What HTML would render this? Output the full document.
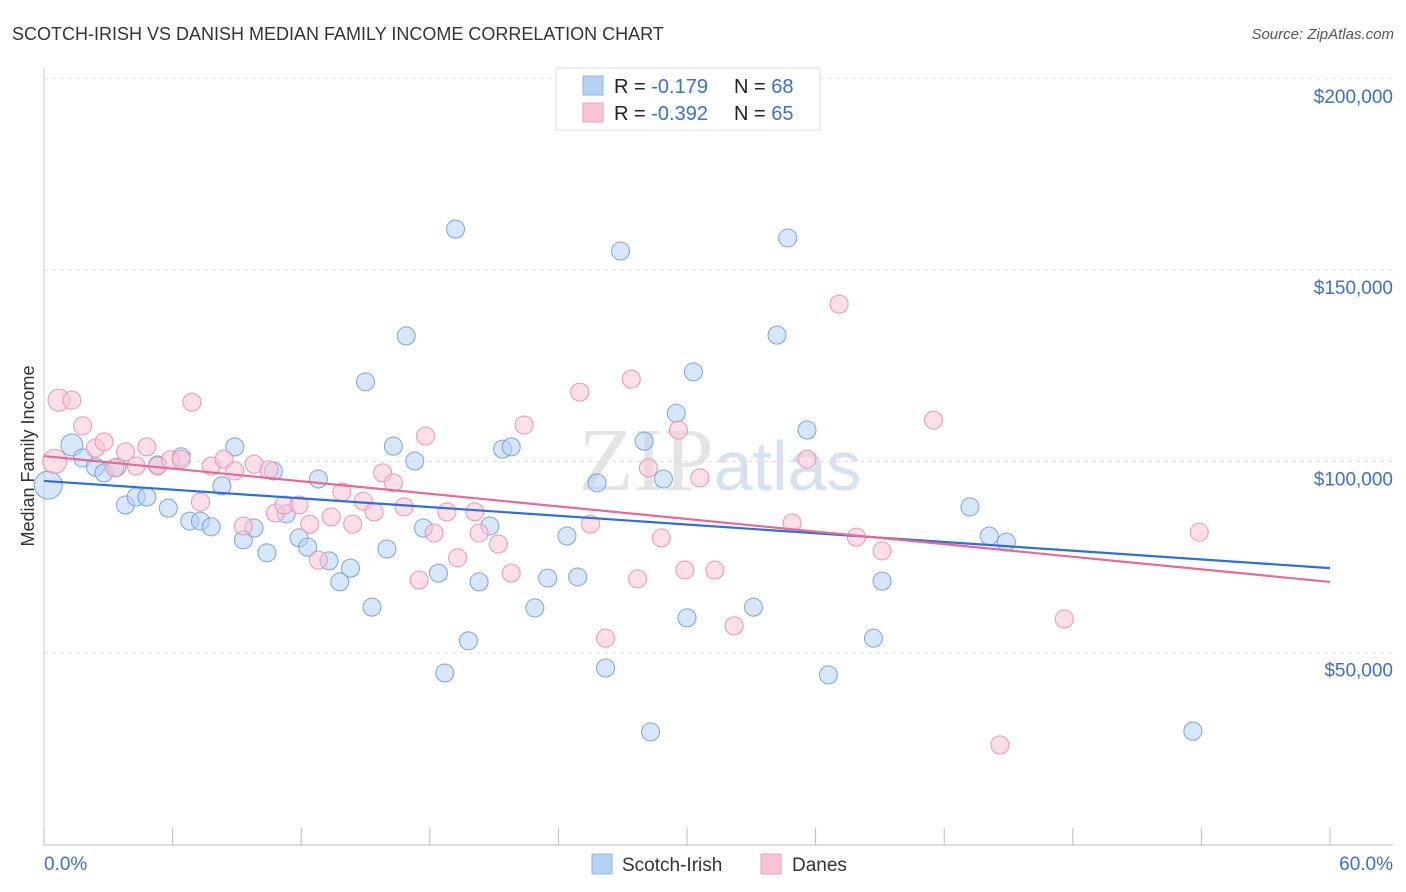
<!DOCTYPE html>
<html><head><meta charset="utf-8"><style>
body{margin:0;background:#fff;font-family:"Liberation Sans",sans-serif;}
svg{display:block}
</style></head><body>
<svg id="chart" width="1406" height="892">
<text x="12" y="40" font-size="18" fill="#333">SCOTCH-IRISH VS DANISH MEDIAN FAMILY INCOME CORRELATION CHART</text>
<text x="1394" y="39" font-size="15" fill="#555" font-style="italic" text-anchor="end">Source: ZipAtlas.com</text>
<text x="720" y="490" font-size="90" fill="#e4e4e4" text-anchor="middle" font-family="Liberation Serif,serif">ZIP<tspan fill="#d6e2f2" font-family="Liberation Sans,sans-serif" font-size="70">atlas</tspan></text>
<text transform="translate(34,456) rotate(-90)" font-size="18" fill="#333" text-anchor="middle">Median Family Income</text>
<g id="grid"></g><g id="axes"></g><g id="marks"></g>
<g>
<rect x="556" y="68" width="264" height="62" fill="#fff" stroke="#ddd"/>
<rect x="583" y="76" width="20" height="19" fill="#b7d1f4" stroke="#8fb3e8"/>
<rect x="583" y="103" width="20" height="19" fill="#f9c5d6" stroke="#f0a0bb"/>
<text x="614" y="93" font-size="20" fill="#222">R = <tspan fill="#3a6fcc"> -0.179</tspan><tspan x="734">N = </tspan><tspan fill="#3a6fcc">68</tspan></text>
<text x="614" y="120" font-size="20" fill="#222">R = <tspan fill="#3a6fcc">-0.392</tspan><tspan x="734">N = </tspan><tspan fill="#3a6fcc">65</tspan></text>
</g>
<g>
<rect x="592" y="854" width="20" height="20" fill="#b7d1f4" stroke="#8fb3e8"/>
<text x="622" y="871" font-size="19" fill="#333">Scotch-Irish</text>
<rect x="761" y="854" width="20" height="20" fill="#f9c5d6" stroke="#f0a0bb"/>
<text x="792" y="871" font-size="19" fill="#333">Danes</text>
</g>
</svg>
<script>
const yTicks=[50,100,150,200];
const yTickLabels=["$50,000","$100,000","$150,000","$200,000"];
const xTickLabels=["0.0%","60.0%"];
const blueX=[0.2,1.3,1.8,2.4,2.8,3.4,3.8,4.3,4.8,5.3,5.8,6.4,6.8,7.3,7.8,8.3,8.9,9.3,9.8,10.4,10.7,11.3,11.9,12.3,12.8,13.3,13.8,14.3,15.0,15.3,16.0,16.3,16.9,17.3,17.7,18.4,19.2,19.8,18.7,20.3,20.8,21.4,21.8,22.9,23.5,24.4,24.9,25.8,26.2,26.9,28.0,28.3,28.9,29.5,30.0,30.3,33.1,34.2,34.7,35.6,36.6,38.7,39.1,43.2,44.1,44.9,53.6];
const blueY=[93.8,104.3,100.9,98.5,97.0,98.5,88.6,90.7,90.7,99.1,87.8,101.2,84.4,84.4,82.9,93.6,103.8,79.5,82.6,76.1,97.5,86.3,80.0,77.6,95.4,74.0,68.5,72.1,120.8,61.9,77.1,104.0,132.8,100.1,82.6,70.8,160.7,53.1,44.7,68.5,83.1,103.2,103.8,61.7,69.5,80.5,69.8,94.4,46.0,155.0,105.3,29.3,95.4,112.6,59.1,123.4,61.9,133.0,158.4,108.2,44.2,53.8,68.7,88.1,80.5,78.9,29.5];
const pinkX=[0.7,1.3,1.8,2.4,2.8,3.3,3.8,4.3,4.8,5.3,5.9,6.4,6.9,7.3,7.8,8.4,8.9,9.3,9.8,10.5,10.8,11.2,11.9,12.4,12.8,13.4,13.9,14.4,14.9,15.4,15.8,16.3,16.8,17.8,17.5,18.2,18.8,19.3,20.1,20.3,21.2,21.8,22.4,25.0,25.5,26.2,27.4,28.2,27.7,28.8,29.6,29.9,30.6,31.3,32.2,34.9,35.6,37.1,37.9,39.1,41.5,44.6,47.6,53.9,0.5];
const pinkY=[116.0,116.0,109.3,103.5,105.1,98.3,102.5,98.8,103.8,98.8,100.4,100.6,115.5,89.4,98.8,100.6,97.5,83.1,99.3,97.8,86.5,88.6,88.6,83.6,74.2,85.5,92.0,83.6,89.6,86.8,97.0,94.4,88.1,106.6,69.0,81.3,86.8,74.8,86.8,81.3,78.4,70.8,109.5,118.1,83.6,53.8,121.5,98.3,69.3,80.0,108.2,71.6,95.7,71.6,57.0,83.9,100.6,141.1,80.2,76.6,110.8,25.9,58.8,81.5,100.0];
const blueTrend=[94.9,72.1];
const pinkTrend=[101.4,68.5];
const X0=44,X1=1330,Y0=844;
const sx=v=>X0+(v/60)*(X1-X0);
const sy=v=>Y0-v*3.826;
const NS="http://www.w3.org/2000/svg";
function mk(tag,attrs,parent){const e=document.createElementNS(NS,tag);for(const k in attrs)e.setAttribute(k,attrs[k]);document.getElementById(parent).appendChild(e);return e;}
yTicks.forEach((t,i)=>{
 const l=mk('line',{x1:44,x2:1393,y1:sy(t),y2:sy(t),stroke:'#ddd','stroke-dasharray':'4,4'},'grid');
 
 
 const tx=mk('text',{x:1393,y:sy(t)+24,'font-size':19,fill:'#3a6fcc','text-anchor':'end'},'axes');
 tx.textContent=yTickLabels[i];
 
 
});
const ax=mk('line',{x1:44,x2:1393,y1:845,y2:845,stroke:'#bbb'},'axes');


const ay=mk('line',{x1:44,x2:44,y1:68,y2:845,stroke:'#ccc'},'axes');


for(let i=0;i<=10;i++){const t=mk('line',{x1:sx(i*6),x2:sx(i*6),y1:828,y2:845,stroke:'#bbb'},'axes');
 
 }
[[0,'start',44],[60,'end',1393]].forEach((d,i)=>{const t=mk('text',{x:d[2],y:870,'font-size':19,fill:'#3a6fcc','text-anchor':d[1]},'axes');t.textContent=xTickLabels[i];
 
 });
function pts(xs,ys,fill,stroke,name,big){xs.forEach((x,i)=>{const r=big[i]||9;const c=mk('circle',{cx:sx(x),cy:sy(ys[i]),r:r,fill:fill,stroke:stroke,'stroke-width':1,'fill-opacity':0.55},'marks');
 
 });}
pts(blueX,blueY,'#b7d1f4','#7aa4e0','scotch-irish-point',{0:14,1:11});
pts(pinkX,pinkY,'#f9c5d6','#ec94b2','danes-point',{0:11,64:12});
const bl=mk('line',{x1:sx(0),x2:sx(60),y1:sy(blueTrend[0]),y2:sy(blueTrend[1]),stroke:'#2f6fd6','stroke-width':2.2},'marks');


const pl=mk('line',{x1:sx(0),x2:sx(60),y1:sy(pinkTrend[0]),y2:sy(pinkTrend[1]),stroke:'#e66a95','stroke-width':2.2},'marks');


</script>
</body></html>
